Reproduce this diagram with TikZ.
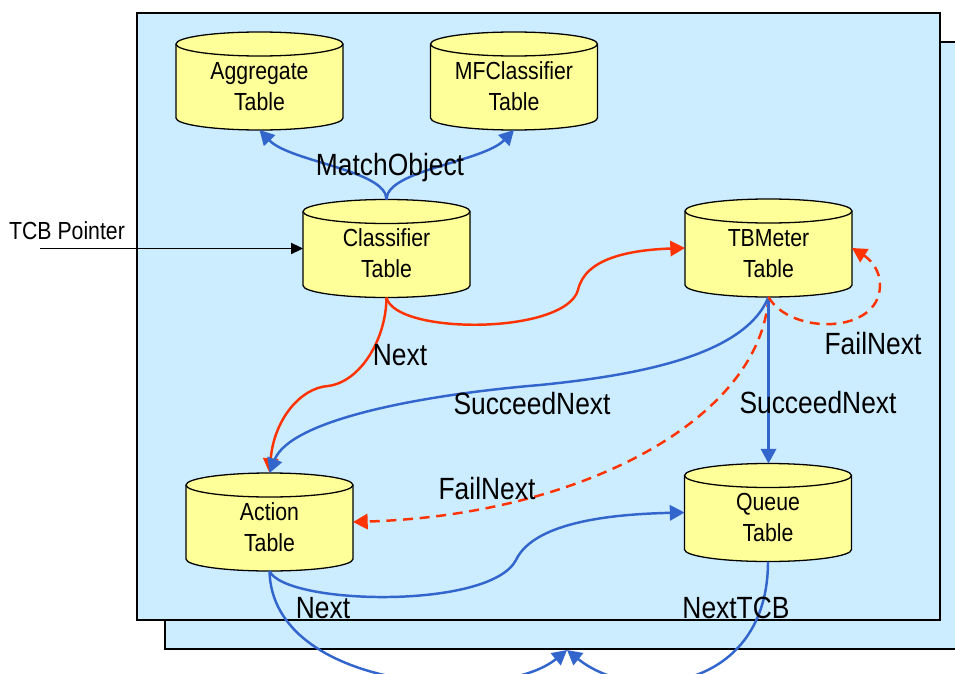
\documentclass[tikz,border=0pt]{standalone}
\usepackage{fontspec}
\setmainfont{Liberation Sans}[FakeStretch=0.86]
\usetikzlibrary{arrows.meta}

\definecolor{panelblue}{HTML}{CCECFF}
\definecolor{tableyellow}{HTML}{FFFF99}
\definecolor{linkblue}{HTML}{3366CC}
\definecolor{linkred}{HTML}{FF3300}

\newcommand\tablefont{\fontsize{21.1pt}{26.4pt}\selectfont}
\newcommand\edgefont{\fontsize{26.2pt}{30pt}\selectfont}

\tikzset{
  panel/.style={draw=black, line width=1.2pt, fill=panelblue},
  tableshape/.style={draw=black, line width=1.1pt, fill=tableyellow},
  tablenode/.style={rectangle, inner sep=0pt, outer sep=0pt,
    minimum width=50.1mm, minimum height=29.4mm, font=\tablefont},
  edgelabel/.style={font=\edgefont, inner sep=0pt, anchor=base},
  bluelink/.style={draw=linkblue, line width=2.1pt,
    -{Triangle[length=4.4mm,width=4.6mm]}},
  redlink/.style={draw=linkred, line width=2.1pt,
    -{Triangle[length=4.4mm,width=4.6mm]}},
  faillink/.style={redlink, dash pattern=on 3mm off 2mm},
  pointer/.style={draw=black, line width=0.8pt,
    -{Triangle[length=3.6mm,width=3.4mm]}},
}

% database table drawn as a cylinder: name, centre x, centre y, two text lines
\newcommand\dbtable[5]{%
  \filldraw[tableshape] (#2-83.5,#3-37) -- (#2-83.5,#3+37)
    arc[start angle=180, end angle=0, x radius=83.5, y radius=12]
    -- (#2+83.5,#3-37)
    arc[start angle=0, end angle=-180, x radius=83.5, y radius=12] -- cycle;
  \draw[tableshape, fill=none] (#2-83.5,#3-37)
    arc[start angle=180, end angle=0, x radius=83.5, y radius=12];
  \node[tablenode] (#1) at (#2,#3)
    {\raisebox{-2.3mm}[\height][\depth]{\begin{tabular}{@{}c@{}}#4\\#5\end{tabular}}};
}

\begin{document}
\begin{tikzpicture}[x=0.3mm, y=-0.3mm]
  \clip (0,0) rectangle (955,674);
  \useasboundingbox (0,0) rectangle (955,674);

  % stacked TCB panels
  \filldraw[panel] (165,42) rectangle (980,649);
  \filldraw[panel] (137,13) rectangle (940,620);

  % tables
  \dbtable{agg}{259.5}{81}{Aggregate}{Table}
  \dbtable{mfc}{514}{81}{MFClassifier}{Table}
  \dbtable{cls}{386.5}{248.5}{Classifier}{Table}
  \dbtable{tbm}{768.5}{248}{TBMeter}{Table}
  \dbtable{act}{269.5}{522}{Action}{Table}
  \dbtable{que}{768}{512.5}{Queue}{Table}

  % entry pointer
  \node[font=\tablefont, inner sep=0pt, anchor=base] (tcblabel) at (67,239) {TCB Pointer};
  \coordinate (tcbstart) at (40,248.5);
  \draw[pointer] (tcbstart) -- (cls.west);

  % classifier match objects
  \draw[bluelink] (cls.north) .. controls (386.5,170) and (290,162) .. (agg.south);
  \draw[bluelink] (cls.north) .. controls (386.5,170) and (483,162) .. (mfc.south);
  \node[edgelabel] (lblmatch) at (390,175) {MatchObject};

  % classifier next links
  \draw[redlink] (cls.south) .. controls (395,335) and (565,335) .. (578,290)
    .. controls (585,258) and (630,250) .. (tbm.west);
  \draw[redlink] (cls.south) .. controls (386,340) and (360,382) .. (328,386)
    .. controls (300,388) and (274,420) .. (act.north);
  \node[edgelabel] (lblnext) at (400,365) {Next};

  % meter outcomes
  \draw[faillink] (tbm.south) .. controls (760,420) and (580,515) .. (act.east);
  \draw[bluelink] (tbm.south) .. controls (745,355) and (640,375) .. (540,385)
    .. controls (420,395) and (290,420) .. (act.north);
  \draw[bluelink] (tbm.south) -- (tbm.south |- que.north);
  \draw[faillink] (tbm.south) .. controls (790,335) and (880,335) .. (880,285)
    .. controls (880,268) and (868,258) .. (tbm.east);
  \node[edgelabel] (lblsucc) at (532,414) {SucceedNext};
  \node[edgelabel] (lblsuccq) at (818,413) {SucceedNext};
  \node[edgelabel] (lblfailm) at (873,354) {FailNext};
  \node[edgelabel] (lblfaila) at (487,499) {FailNext};

  % action and queue successors
  \draw[bluelink] (act.south) .. controls (285,605) and (490,610) .. (516,560)
    .. controls (535,520) and (620,514) .. (que.west);
  \coordinate (nexttcb) at (567,650);
  \draw[bluelink] (act.south) .. controls (272,690) and (500,705) .. (nexttcb);
  \draw[bluelink] (que.south) .. controls (768,690) and (635,705) .. (nexttcb);
  \node[edgelabel] (lblnexta) at (323,618) {Next};
  \node[edgelabel] (lblnexttcb) at (736,618) {NextTCB};
\end{tikzpicture}
\end{document}
